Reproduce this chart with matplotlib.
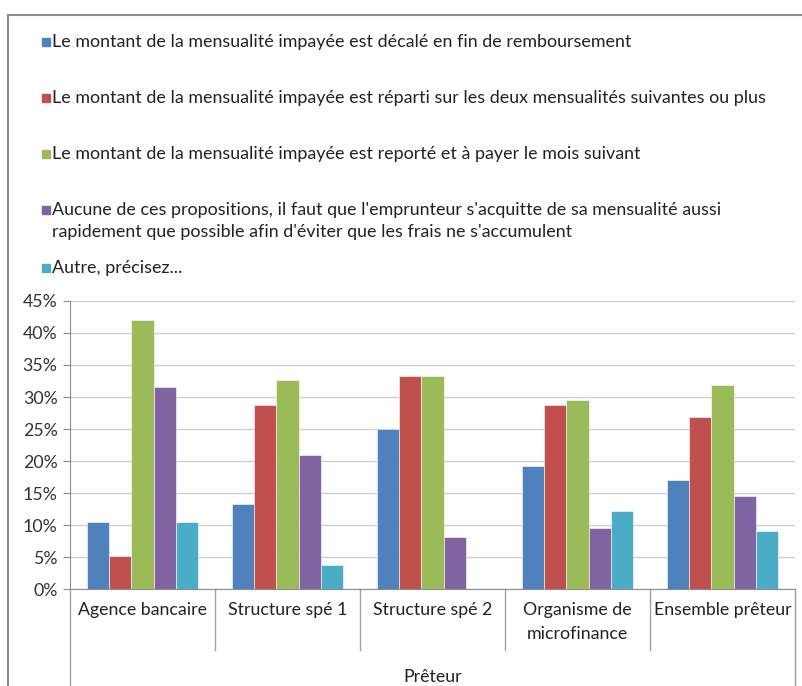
import matplotlib.pyplot as plt
from matplotlib.lines import Line2D
from matplotlib.patches import Rectangle
import numpy as np

# ==========================================
# DATA
# ==========================================

categories = ["Agence bancaire", "Structure spé 1", "Structure spé 2",
              "Organisme de\nmicrofinance", "Ensemble prêteur"]

series_labels = [
    "Le montant de la mensualité impayée est décalé en fin de remboursement",
    "Le montant de la mensualité impayée est réparti sur les deux mensualités suivantes ou plus",
    "Le montant de la mensualité impayée est reporté et à payer le mois suivant",
    "Aucune de ces propositions, il faut que l'emprunteur s'acquitte de sa mensualité aussi\nrapidement que possible afin d'éviter que les frais ne s'accumulent",
    "Autre, précisez...",
]

decale = [10.5, 13.3, 25.0, 19.2, 17.1]
reparti = [5.2, 28.7, 33.3, 28.8, 26.9]
reporte = [42.0, 32.6, 33.3, 29.6, 31.9]
aucune = [31.5, 21.0, 8.2, 9.6, 14.6]
autre = [10.5, 3.75, 0.0, 12.2, 9.1]

series_values = [decale, reparti, reporte, aucune, autre]
colors = ["#4F81BD", "#C0504D", "#9BBB59", "#8064A2", "#4BACC6"]

yticks = [0, 5, 10, 15, 20, 25, 30, 35, 40, 45]
x_title = "Prêteur"

# ==========================================
# FIGURE
# ==========================================

plt.rcParams["font.family"] = ["Lato", "DejaVu Sans"]

W, H = 803, 686
fig = plt.figure(figsize=(W / 100, H / 100), dpi=100)

# outer frame
fig.add_artist(Line2D([8 / W, 8 / W], [0, 1 - 15 / H], transform=fig.transFigure,
                      color="#8c8c8c", lw=1.5))
fig.add_artist(Line2D([8 / W, 1], [1 - 15 / H, 1 - 15 / H], transform=fig.transFigure,
                      color="#8c8c8c", lw=1.5))

x0, x1 = 70, 795
y_top, y_bot = 301, 589
ax = fig.add_axes([x0 / W, 1 - y_bot / H, (x1 - x0) / W, (y_bot - y_top) / H])

n = len(series_values)
bw = 0.152
x = np.arange(len(categories))
for i, (vals, col) in enumerate(zip(series_values, colors)):
    ax.bar(x + (i - (n - 1) / 2) * bw, vals, width=bw, color=col,
           edgecolor="white", linewidth=0.4, zorder=3)

ax.set_xlim(-0.5, len(categories) - 0.5)
ax.set_ylim(0, 45)
ax.set_yticks(yticks)
ax.set_yticklabels([f"{v}%" for v in yticks], fontsize=12.8, color="#333333")
ax.tick_params(axis="y", length=5, color="#8c8c8c", pad=4)
ax.set_xticks([])
ax.grid(axis="y", color="#d0d0d0", linewidth=1, zorder=0)

for s in ["top", "right"]:
    ax.spines[s].set_visible(False)
ax.spines["left"].set_color("#8c8c8c")
ax.spines["bottom"].set_color("#8c8c8c")

# category separators and labels
trans = ax.get_xaxis_transform()
for k in range(len(categories) + 1):
    xb = k - 0.5
    outer = k == 0 or k == len(categories)
    y_end = -(H - y_bot) / (y_bot - y_top) if outer else -(650 - y_bot) / (y_bot - y_top)
    ax.add_line(Line2D([xb, xb], [0, y_end], transform=trans, color="#a0a0a0",
                       lw=1, clip_on=False))

for k, cat in enumerate(categories):
    ax.text(k, -13 / (y_bot - y_top), cat, transform=trans, ha="center", va="top",
            fontsize=12.8, color="#222222", linespacing=1.6)

ax.text(2, -(677 - y_bot) / (y_bot - y_top), x_title, transform=trans,
        ha="center", va="center", fontsize=12.8, color="#222222")

# legend
text_y = [42, 98, 154, 221, 268]
mark_y = [42, 98, 154, 210, 268]
for lab, col, ty, my in zip(series_labels, colors, text_y, mark_y):
    fig.add_artist(Rectangle((42 / W, 1 - (my + 4) / H), 8 / W, 8 / H,
                             transform=fig.transFigure, color=col))
    fig.text(52 / W, 1 - ty / H, lab, ha="left", va="center", fontsize=12.9,
             color="#222222", linespacing=1.5)

fig.savefig("out.png", dpi=100)
